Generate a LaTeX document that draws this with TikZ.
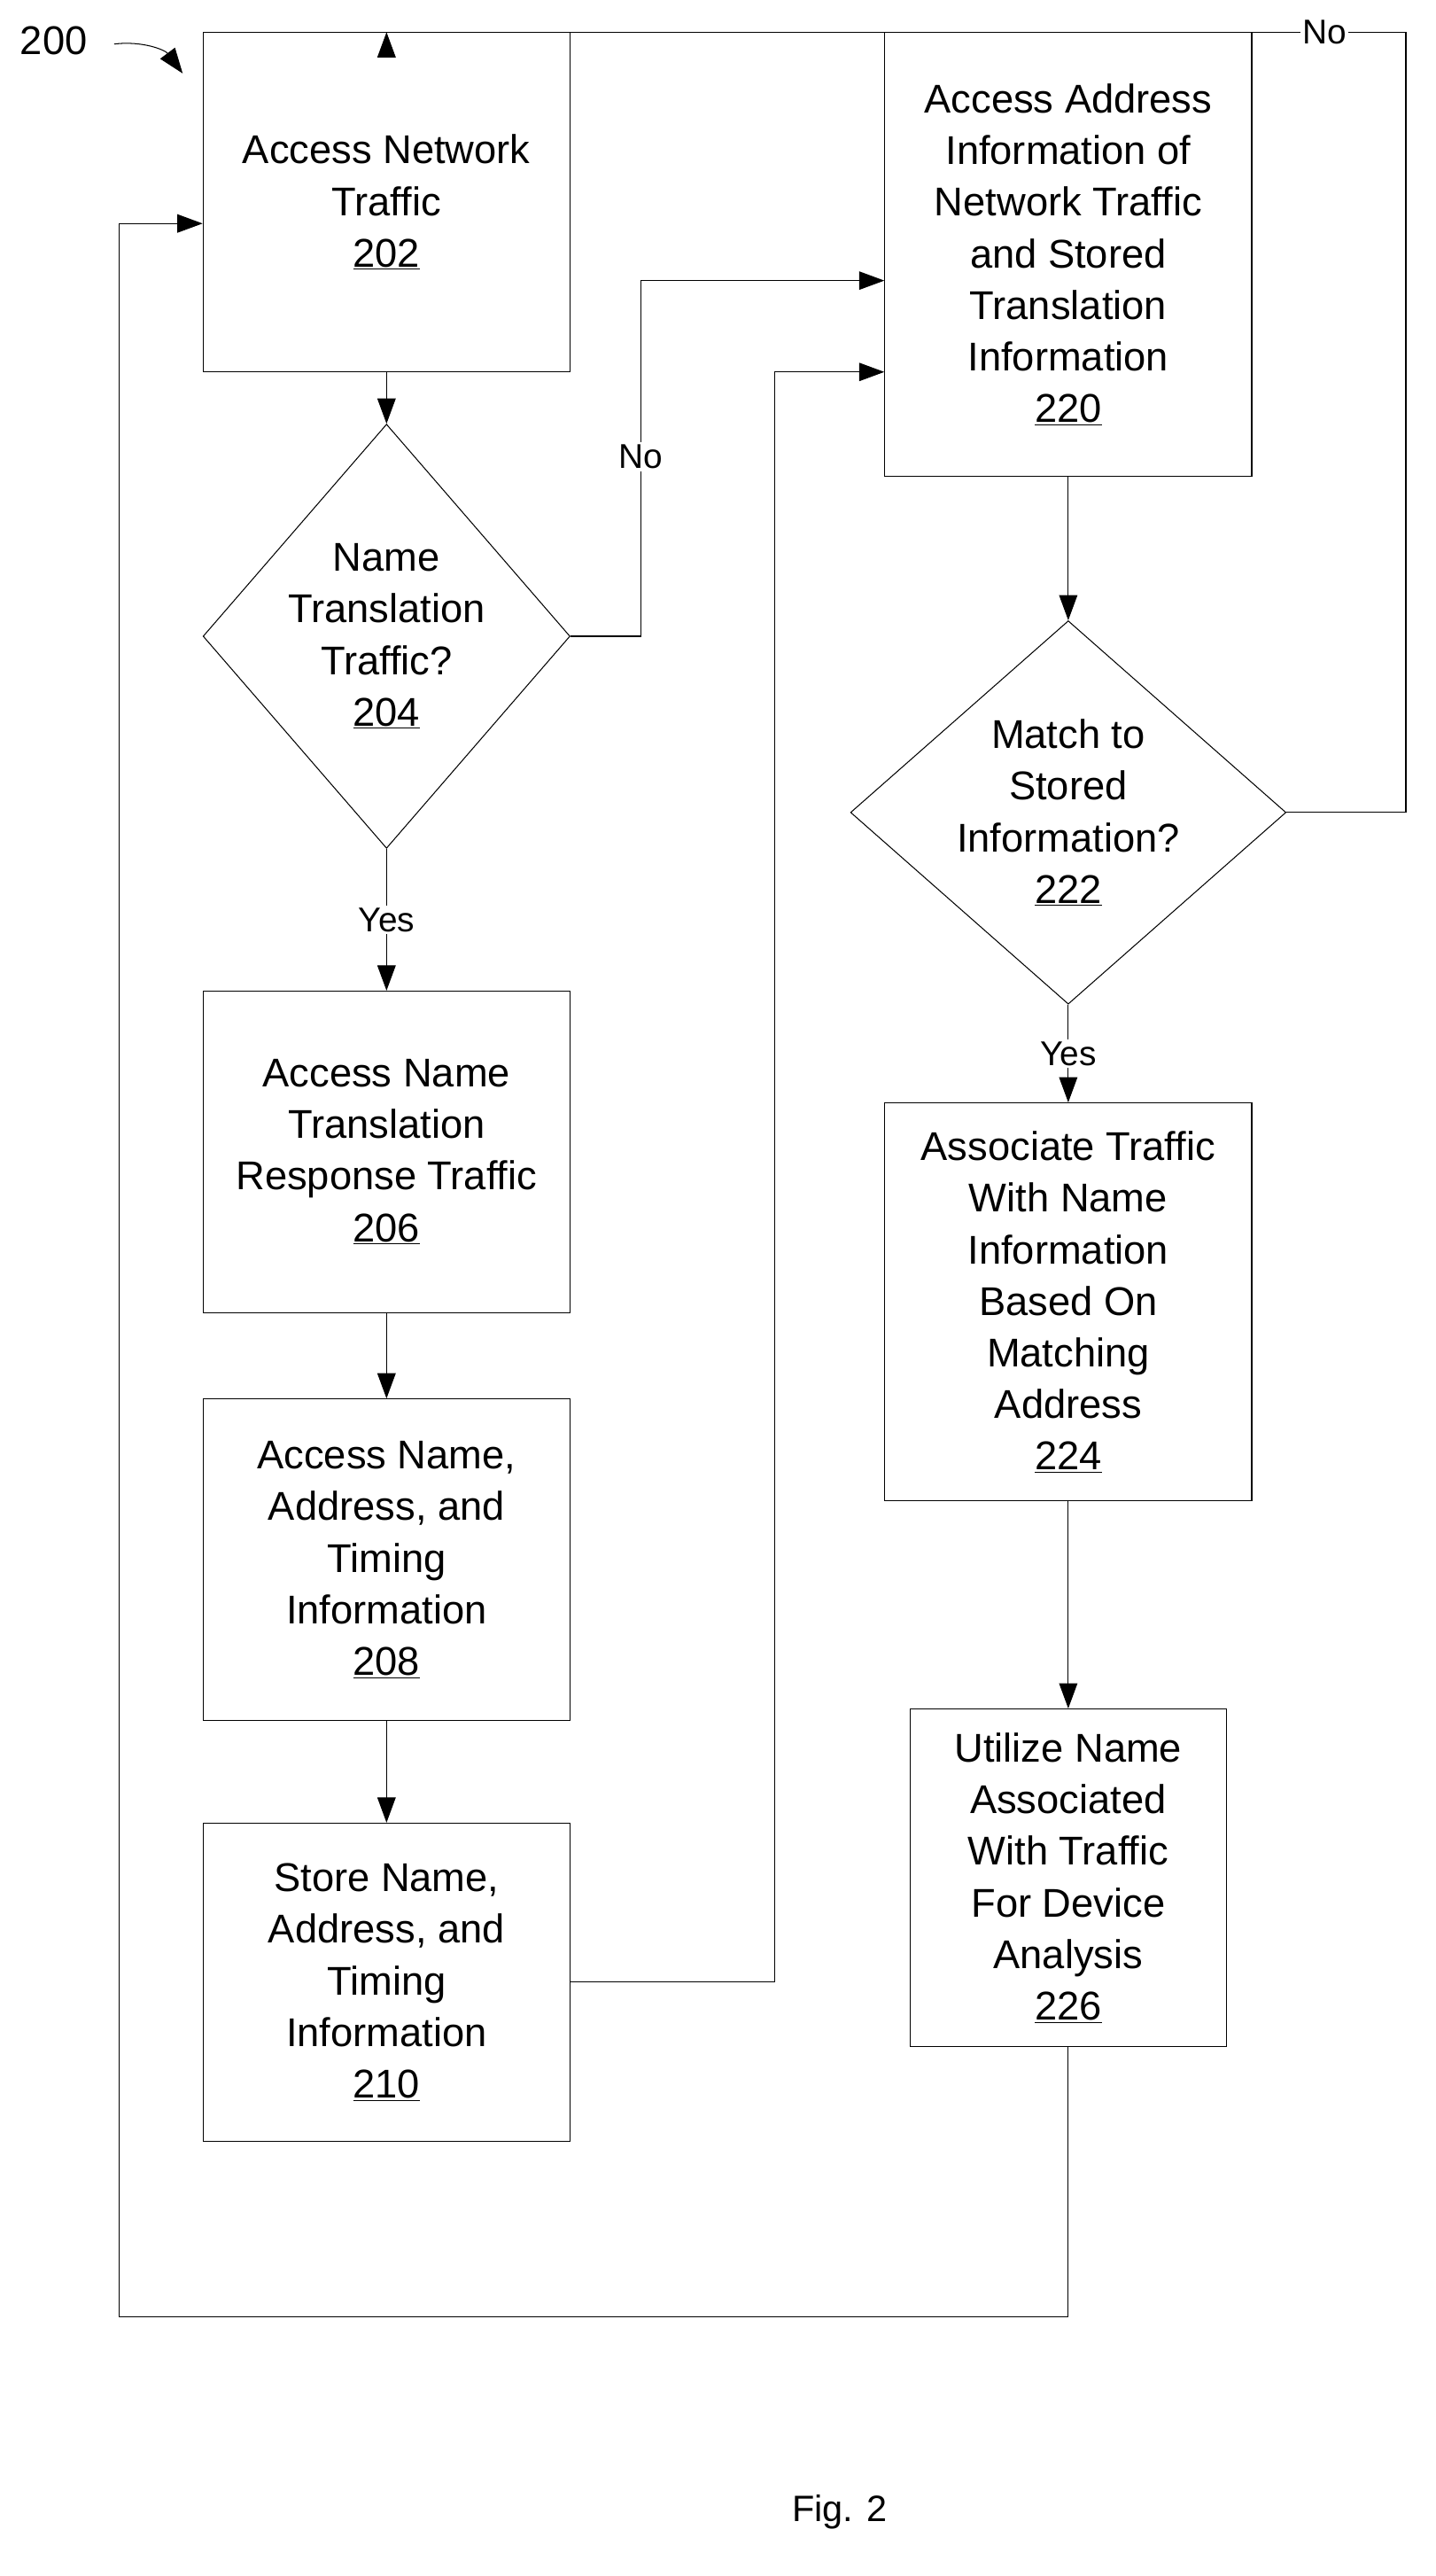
\documentclass[tikz,border=0pt]{standalone}
\usepackage{fontspec}
\setmainfont{Liberation Sans}
\usetikzlibrary{shapes.geometric,arrows.meta}
\tikzset{
  box/.style={draw, thick, minimum width=11.25cm, align=center, inner sep=0pt, font=\fontsize{35}{45}\selectfont},
  dia/.style={draw, thick, diamond, inner sep=0pt},
  txt/.style={align=center, font=\fontsize{35}{45}\selectfont},
  lbl/.style={fill=white, inner sep=2pt, font=\fontsize{30}{36}\selectfont},
  flow/.style={thick, -{Triangle[width=16pt,length=22pt]}}
}
\begin{document}
\begin{tikzpicture}[x=0.05cm,y=-0.05cm]
\useasboundingbox (0,0) rectangle (880,1579);

% left column
\node[box, minimum height=10.4cm] (n202) at (237,124) {Access Network\\Traffic\\\underline{202}};
\node[dia, minimum width=11.25cm, minimum height=13cm] (n204) at (237,390) {};
\node[txt] at (n204) {Name\\Translation\\Traffic?\\\underline{204}};
\node[box, minimum height=9.85cm] (n206) at (237,706) {Access Name\\Translation\\Response Traffic\\\underline{206}};
\node[box, minimum height=9.85cm] (n208) at (237,956) {Access Name,\\Address, and\\Timing\\Information\\\underline{208}};
\node[box, minimum height=9.75cm] (n210) at (237,1215) {Store Name,\\Address, and\\Timing\\Information\\\underline{210}};

% right column
\node[box, minimum height=13.6cm] (n220) at (655,156) {Access Address\\Information of\\Network Traffic\\and Stored\\Translation\\Information\\\underline{220}};
\node[dia, minimum width=13.35cm, minimum height=11.75cm] (n222) at (655,498) {};
\node[txt] at (n222) {Match to\\Stored\\Information?\\\underline{222}};
\node[box, minimum height=12.2cm] (n224) at (655,798) {Associate Traffic\\With Name\\Information\\Based On\\Matching\\Address\\\underline{224}};
\node[box, minimum width=9.7cm, minimum height=10.35cm] (n226) at (655,1151) {Utilize Name\\Associated\\With Traffic\\For Device\\Analysis\\\underline{226}};

% connectors
\draw[flow] (n202) -- (n204);
\draw[flow] (n204) -- node[lbl] {Yes} (n206);
\draw[flow] (n206) -- (n208);
\draw[flow] (n208) -- (n210);
\draw[flow] (n220) -- (n222);
\draw[flow] (n222) -- node[lbl] {Yes} (n224);
\draw[flow] (n224) -- (n226);
\draw[flow] (n204.east) -| (393,280) node[lbl] {No} |- (n220.west |- 0,172);
\draw[flow] (n210.east) -| (475,228) -- (n220.west |- 0,228);
\draw[flow] (n222.east) -| (862,20) -- node[lbl, pos=0.08] {No} (237,20) -- (n202.north);
\draw[flow] (n226.south) |- (73,1420) |- (n202.west |- 0,137);

% figure labels
\node[font=\fontsize{35}{40}\selectfont] (fig) at (33,25) {200};
\draw[thick, -{Triangle[width=16pt,length=22pt]}] (70,27) to[bend left=30] (112,45);
\node[font=\fontsize{32}{40}\selectfont] (cap) at (515,1540) {Fig. 2};
\end{tikzpicture}
\end{document}
